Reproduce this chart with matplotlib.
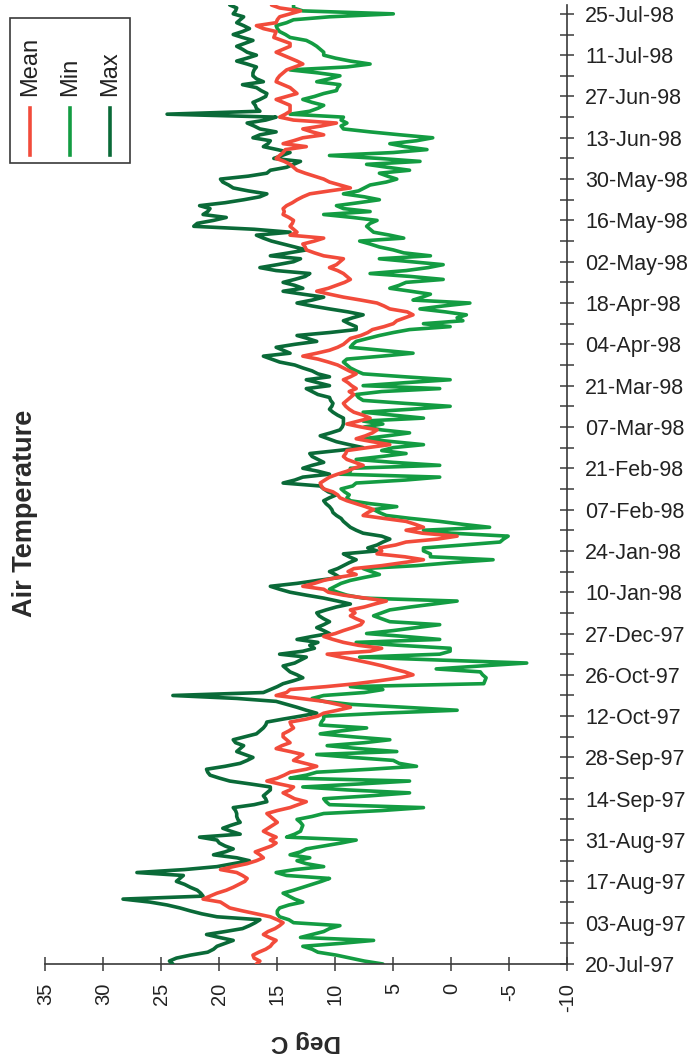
import matplotlib
matplotlib.use("Agg")
import matplotlib.pyplot as plt
from matplotlib.lines import Line2D
from matplotlib.patches import Rectangle
import numpy as np

plt.rcParams["font.family"] = ["Liberation Sans", "DejaVu Sans"]

# Daily air temperature (deg C), one value per logged day
mean_temp = [
    16.8, 16.5, 17.0, 17.1, 16.6, 16.0, 15.6, 15.4, 15.1, 15.7,
    16.2, 15.8, 15.2, 14.8, 14.5, 15.0, 15.6, 16.8, 18.0, 19.1,
    19.5, 19.9, 21.4, 20.8, 20.2, 19.4, 18.8, 18.3, 17.8, 17.6,
    18.0, 18.5, 19.9, 18.8, 17.6, 16.8, 16.2, 16.5, 16.9, 16.2,
    15.5, 15.1, 15.6, 15.1, 15.7, 16.2, 15.8, 15.4, 15.0, 15.3,
    15.6, 15.9, 15.0, 13.9, 13.2, 12.5, 13.5, 14.0, 14.5, 13.9,
    13.6, 14.8, 15.9, 15.0, 14.4, 13.9, 12.5, 11.6, 12.6, 13.6,
    13.2, 12.8, 13.9, 15.1, 14.6, 13.9, 14.2, 14.5, 14.5, 14.0,
    13.6, 13.8, 13.9, 12.5, 11.5, 11.0, 9.8, 8.7, 9.8, 11.0,
    13.0, 15.1, 14.2, 13.9, 10.8, 8.2, 6.2, 4.4, 3.3, 4.0,
    5.0, 5.9, 7.0, 8.2, 9.5, 10.7, 7.0, 6.0, 8.0, 9.3,
    10.2, 11.0, 10.0, 9.3, 8.5, 7.8, 7.6, 8.2, 8.7, 8.3,
    8.7, 7.5, 6.6, 5.6, 7.4, 9.3, 10.6, 11.0, 12.8, 11.8,
    11.0, 9.8, 8.2, 8.9, 8.4, 6.0, 4.2, 2.4, 4.0, 6.4,
    6.0, 6.2, 4.8, 3.9, 1.2, -0.5, 2.5, 3.9, 2.4, 3.1,
    3.9, 5.8, 7.6, 7.2, 6.7, 7.4, 8.2, 9.0, 9.6, 9.8,
    10.2, 11.0, 11.2, 11.3, 10.9, 10.5, 9.8, 9.0, 8.4, 7.6,
    8.3, 9.0, 9.3, 9.1, 9.0, 7.2, 5.3, 6.8, 8.2, 7.4,
    6.8, 6.4, 7.8, 9.0, 8.0, 7.0, 7.6, 8.4, 8.8, 9.1,
    9.3, 9.0, 8.7, 8.4, 8.8, 8.2, 8.6, 8.9, 9.3, 8.7,
    8.2, 8.8, 9.3, 9.8, 10.6, 11.5, 12.8, 11.6, 10.5, 9.8,
    9.3, 9.0, 8.7, 7.8, 7.2, 6.8, 5.8, 5.0, 4.7, 4.0,
    3.3, 3.8, 5.3, 5.8, 6.4, 7.8, 9.3, 10.5, 11.6, 10.6,
    9.9, 9.2, 8.7, 9.0, 9.3, 9.8, 10.5, 9.9, 9.6, 9.3,
    11.0, 11.8, 12.5, 12.6, 12.8, 11.8, 11.0, 13.9, 13.3, 13.6,
    13.9, 13.7, 13.6, 14.0, 14.5, 14.4, 14.5, 14.2, 13.7, 13.3,
    12.8, 12.2, 10.5, 8.7, 9.6, 10.5, 11.0, 11.8, 12.6, 13.3,
    13.6, 13.9, 14.4, 15.1, 14.8, 14.5, 14.3, 12.5, 14.5, 13.6,
    12.8, 11.0, 12.0, 12.8, 11.2, 9.9, 13.6, 14.8, 14.3, 13.9,
    13.9, 13.9, 14.5, 15.1, 14.2, 13.3, 13.6, 13.9, 14.5, 15.1,
    15.0, 14.8, 14.5, 14.2, 13.5, 12.8, 13.3, 13.9, 14.5, 15.1,
    14.5, 13.9, 13.9, 14.6, 15.3, 15.2, 15.1, 16.2, 16.8, 15.1,
    15.0, 14.8, 13.9, 13.0, 14.8, 15.5,
]

min_temp = [
    5.9, 7.5, 8.7, 9.9, 11.5, 12.0, 12.8, 9.5, 6.7, 13.0,
    12.0, 11.0, 10.5, 9.6, 13.6, 14.0, 14.8, 15.0, 15.0, 14.8,
    14.0, 12.8, 13.5, 14.0, 14.5, 13.6, 12.8, 12.0, 11.2, 10.5,
    14.2, 15.1, 13.5, 11.0, 12.5, 13.3, 12.2, 13.9, 13.0, 12.5,
    11.0, 9.5, 8.2, 14.2, 13.5, 13.0, 12.9, 12.8, 13.0, 13.3,
    12.0, 11.0, 6.0, 2.4, 10.5, 10.8, 11.0, 7.0, 3.6, 9.0,
    12.8, 8.0, 3.6, 13.9, 12.5, 11.6, 7.0, 3.0, 4.5, 5.0,
    8.5, 11.6, 4.7, 8.0, 10.7, 7.5, 5.3, 8.5, 11.3, 9.5,
    7.3, 11.3, 11.2, 11.0, 11.0, 6.0, -0.5, 4.0, 8.7, 11.0,
    12.0, 11.0, 7.5, 5.9, 8.7, -2.8, -2.9, -3.0, -2.7, -2.5,
    1.3, -2.5, -6.5, 1.0, 7.9, 1.0, 0.1, 0.1, 4.5, 8.2,
    1.0, 4.0, 7.3, 5.0, 3.0, 1.0, 5.3, 6.0, 6.7, 6.0,
    5.3, 3.5, 1.5, -0.5, 7.6, 9.0, 9.8, 10.5, 10.0, 9.5,
    8.7, 7.5, 6.2, 6.9, 7.6, 3.0, 0.0, -3.6, 1.8, 1.8,
    2.4, 2.4, -1.0, -4.2, -4.5, -4.9, 0.0, 2.4, -3.3, -1.0,
    1.0, 3.5, 5.6, 6.2, 6.7, 4.7, 7.0, 8.7, 9.0, 8.8,
    9.2, 9.5, 8.5, 8.2, 4.0, 1.0, 9.6, 8.7, 8.7, 1.0,
    5.0, 8.2, 6.0, 3.9, 6.0, 5.0, 2.4, 5.0, 7.6, 5.5,
    3.6, 6.0, 7.5, 5.9, 7.6, 2.4, 5.0, 7.6, 3.5, 0.1,
    4.0, 7.6, 8.0, 8.2, 6.0, 1.0, 7.6, 4.0, 0.1, 4.0,
    7.6, 8.2, 8.7, 9.0, 9.3, 9.0, 6.0, 3.3, 6.0, 8.7,
    8.5, 8.2, 7.2, 6.2, 5.0, 3.6, 0.1, 2.4, -1.0, -0.5,
    -1.3, 0.5, 2.7, 0.7, -1.6, 3.3, 2.5, 1.8, 3.5, 5.3,
    4.5, 3.9, 0.7, 3.5, 7.0, 3.9, 2.0, 0.7, 3.5, 6.2,
    1.8, 4.1, 5.0, 6.2, 7.0, 7.9, 4.1, 5.3, 6.7, 7.0,
    7.3, 7.0, 6.4, 8.5, 11.0, 7.0, 9.3, 9.9, 8.0, 6.2,
    7.5, 9.3, 8.0, 7.5, 7.0, 5.6, 4.7, 5.5, 6.2, 3.6,
    5.5, 7.3, 2.7, 6.2, 10.5, 5.0, 2.1, 4.0, 5.3, 3.0,
    1.6, 4.4, 7.0, 9.3, 9.5, 9.0, 9.5, 9.3, 13.9, 12.2,
    11.5, 11.0, 12.0, 12.8, 11.8, 11.0, 9.9, 9.8, 9.6, 11.6,
    10.5, 9.6, 11.5, 13.9, 9.0, 7.0, 8.7, 10.0, 11.0, 11.0,
    11.3, 11.6, 12.0, 12.5, 13.9, 14.3, 14.8, 15.0, 15.1, 14.2,
    13.6, 10.5, 5.0, 12.8, 13.6, 13.6,
]

max_temp = [
    24.0, 24.3, 23.7, 22.5, 21.0, 20.5, 20.2, 19.5, 18.8, 20.0,
    21.1, 19.5, 18.0, 17.4, 16.9, 16.5, 20.2, 21.5, 22.5, 23.4,
    24.5, 26.0, 28.3, 21.4, 21.6, 21.9, 22.5, 23.0, 23.7, 23.4,
    23.1, 27.1, 23.0, 20.2, 18.8, 17.4, 18.5, 20.5, 19.5, 18.8,
    19.5, 20.0, 20.2, 21.7, 18.2, 19.0, 19.7, 19.0, 18.2, 18.4,
    18.5, 18.5, 18.6, 18.8, 17.0, 15.9, 16.0, 16.2, 15.9, 15.6,
    15.6, 17.3, 19.1, 20.0, 20.8, 21.0, 21.1, 19.5, 18.2, 17.6,
    17.1, 17.8, 18.5, 18.2, 17.9, 18.6, 18.8, 17.8, 16.8, 16.5,
    16.2, 16.0, 15.9, 14.5, 13.0, 11.6, 12.5, 13.3, 14.2, 15.1,
    18.5, 24.0, 16.2, 15.6, 15.0, 14.5, 13.6, 12.8, 13.3, 13.9,
    14.2, 14.5, 13.5, 13.0, 12.5, 14.8, 12.8, 11.8, 12.2, 11.5,
    13.3, 12.0, 10.5, 11.0, 11.6, 11.0, 10.5, 11.0, 11.4, 11.6,
    10.8, 9.9, 8.7, 9.8, 11.0, 12.5, 13.9, 14.8, 15.6, 13.3,
    11.5, 9.6, 10.0, 10.5, 9.8, 9.3, 8.8, 8.2, 8.8, 9.3,
    6.4, 7.2, 6.4, 5.9, 5.3, 6.0, 7.6, 8.2, 8.7, 9.0,
    9.3, 9.5, 9.9, 10.2, 10.3, 10.5, 10.8, 11.0, 10.5, 9.9,
    10.6, 11.0, 11.3, 14.5, 13.5, 12.8, 10.5, 11.5, 12.8, 12.0,
    11.0, 11.5, 12.0, 12.2, 9.8, 7.6, 8.8, 9.9, 10.6, 11.3,
    10.4, 9.6, 9.4, 9.3, 9.3, 9.3, 9.8, 10.2, 10.5, 10.3,
    10.2, 10.4, 10.5, 11.5, 12.0, 12.5, 10.5, 11.5, 12.5, 10.5,
    11.5, 12.0, 12.8, 13.5, 14.8, 15.5, 16.2, 13.9, 14.5, 15.1,
    13.5, 11.6, 12.4, 13.3, 10.5, 8.2, 8.2, 8.8, 9.3, 8.5,
    7.6, 8.9, 10.5, 12.0, 13.3, 12.0, 11.0, 12.8, 14.5, 12.8,
    13.5, 14.5, 13.5, 12.6, 12.2, 15.1, 16.5, 15.0, 13.6, 13.0,
    15.6, 14.0, 12.5, 13.5, 14.5, 15.5, 16.2, 16.8, 13.9, 17.0,
    22.2, 21.9, 20.5, 19.4, 21.4, 21.0, 20.8, 21.7, 19.5, 17.9,
    16.5, 15.9, 17.5, 18.8, 19.2, 19.7, 19.9, 17.5, 15.9, 15.6,
    14.2, 13.6, 13.0, 15.3, 14.6, 13.9, 15.0, 16.2, 15.8, 15.6,
    17.1, 16.5, 15.1, 16.5, 17.0, 17.6, 16.0, 15.1, 24.5, 16.5,
    16.8, 16.9, 17.1, 16.5, 16.0, 15.9, 16.4, 16.8, 18.0, 16.2,
    16.8, 17.1, 17.1, 17.0, 16.8, 17.6, 18.5, 17.6, 16.8, 17.6,
    18.0, 18.5, 17.8, 17.1, 18.0, 18.8, 18.0, 17.4, 17.9, 18.5,
    18.2, 17.9, 18.8, 18.6, 18.5, 19.1,
]

# Category labels, one every 14 logged days
date_labels = [
    "20-Jul-97", "03-Aug-97", "17-Aug-97", "31-Aug-97", "14-Sep-97",
    "28-Sep-97", "12-Oct-97", "26-Oct-97", "27-Dec-97", "10-Jan-98",
    "24-Jan-98", "07-Feb-98", "21-Feb-98", "07-Mar-98", "21-Mar-98",
    "04-Apr-98", "18-Apr-98", "02-May-98", "16-May-98", "30-May-98",
    "13-Jun-98", "27-Jun-98", "11-Jul-98", "25-Jul-98",
]
label_every = 14
tick_every = 7
temp_ticks = [35, 30, 25, 20, 15, 10, 5, 0, -5, -10]

series_names = ["Mean", "Min", "Max"]
series_colors = ["#F24B3B", "#139C42", "#0A6A38"]

assert len(mean_temp) == len(min_temp) == len(max_temp)

W, H = 692, 1064
fig = plt.figure(figsize=(W / 100, H / 100), dpi=100)

x_left, x_right = 45.3, 567.3
y_bottom, y_top = 964.0, 5.0
ax = fig.add_axes([x_left / W, (H - y_bottom) / H,
                   (x_right - x_left) / W, (y_bottom - y_top) / H])

days = np.arange(len(mean_temp))
# temperature runs along x, logged day along y
for data, color, z in ((min_temp, series_colors[1], 2),
                       (max_temp, series_colors[2], 3),
                       (mean_temp, series_colors[0], 4)):
    ax.plot(data, days, color=color, lw=2.6, solid_joinstyle="round",
            solid_capstyle="round", zorder=z)

ax.set_xlim(temp_ticks[0], temp_ticks[-1])
ax.set_ylim(0, len(days) - 1)

axis_color = "#3a3a3a"
for side in ("left", "top"):
    ax.spines[side].set_visible(False)
for side in ("bottom", "right"):
    ax.spines[side].set_color(axis_color)
    ax.spines[side].set_linewidth(1.2)

ax.set_xticks(temp_ticks)
ax.set_xticklabels([str(t) for t in temp_ticks])

ax.yaxis.tick_right()
ytick_pos = np.arange(0, len(days), tick_every)
ax.set_yticks(ytick_pos)
ax.set_yticklabels([date_labels[p // label_every] if p % label_every == 0 else ""
                    for p in ytick_pos])

ax.tick_params(axis="x", direction="inout", length=9.4, width=1.1,
               color=axis_color, labelcolor="#222222", labelsize=14.5,
               labelrotation=90, pad=9)
ax.tick_params(axis="y", direction="inout", length=9.4, width=1.1,
               color=axis_color, labelcolor="#222222", labelsize=15.5, pad=8)

# axis titles
fig.text(25 / W, 1 - 513 / H, "Air Temperature", rotation=90,
         ha="center", va="center", fontsize=19.5, fontweight="bold",
         color="#2a2a2a")
fig.text((x_left + x_right) / 2 / W, 1 - 1042 / H, "Deg C", rotation=180,
         ha="center", va="center", fontsize=17.5, fontweight="bold",
         color="#2a2a2a")

# legend box with vertical entries
fig.add_artist(Rectangle((10 / W, 1 - 163 / H), 120 / W, 145 / H,
                         transform=fig.transFigure, fill=False,
                         edgecolor=axis_color, linewidth=1.2))
for k, (name, color) in enumerate(zip(series_names, series_colors)):
    xc = (30 + 40 * k) / W
    fig.add_artist(Line2D([xc, xc], [1 - 155 / H, 1 - 108 / H],
                          transform=fig.transFigure, color=color, lw=2.6))
    fig.text(xc, 1 - 96 / H, name, rotation=90, rotation_mode="anchor",
             ha="left", va="center", fontsize=17, color="#222222")

fig.savefig("out.png", dpi=100)
